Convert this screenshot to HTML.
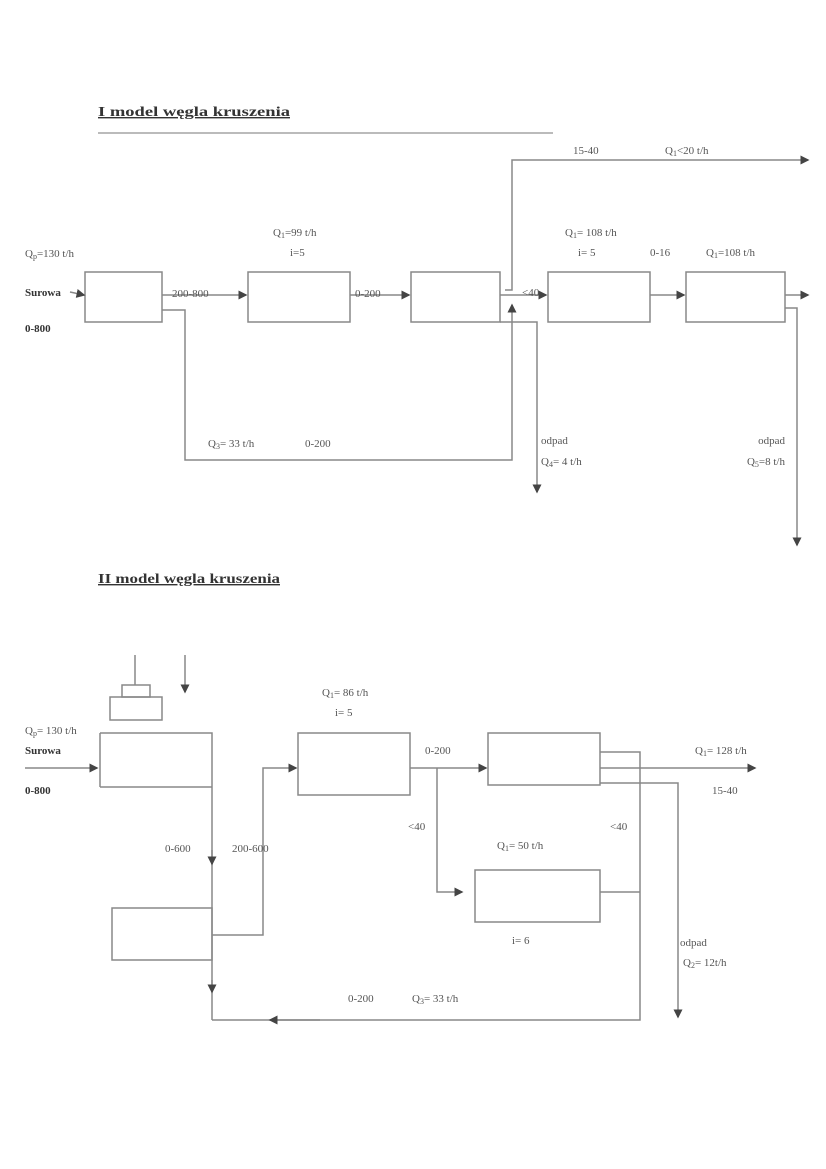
<!DOCTYPE html>
<html><head><meta charset="utf-8"><style>
html,body{margin:0;padding:0;background:#fff;}
svg{display:block}
text{font-family:"Liberation Serif",serif;font-size:11px;fill:#555;}
.b{font-weight:bold;fill:#333}
</style></head><body>
<svg width="826" height="1169" viewBox="0 0 826 1169" xmlns="http://www.w3.org/2000/svg">
<defs><marker id="a" markerWidth="6" markerHeight="6" refX="5" refY="3" orient="auto"><path d="M0,0 L6,3 L0,6z" fill="#444"/></marker></defs>
<g fill="none" stroke="#888" stroke-width="1.5">
<line x1="98" y1="133" x2="553" y2="133" stroke="#bbb" stroke-width="2"/>
<rect x="85" y="272" width="77" height="50"/>
<rect x="248" y="272" width="102" height="50"/>
<rect x="411" y="272" width="89" height="50"/>
<rect x="548" y="272" width="102" height="50"/>
<rect x="686" y="272" width="99" height="50"/>
<line x1="70" y1="292" x2="84" y2="295" marker-end="url(#a)"/>
<line x1="162" y1="295" x2="246" y2="295" marker-end="url(#a)"/>
<line x1="350" y1="295" x2="409" y2="295" marker-end="url(#a)"/>
<line x1="500" y1="295" x2="546" y2="295" marker-end="url(#a)"/>
<line x1="650" y1="295" x2="684" y2="295" marker-end="url(#a)"/>
<line x1="785" y1="295" x2="808" y2="295" marker-end="url(#a)"/>
<polyline points="505,290 512,290 512,160 808,160" marker-end="url(#a)"/>
<polyline points="162,310 185,310 185,460 512,460 512,305" marker-end="url(#a)"/>
<polyline points="500,322 537,322 537,492" marker-end="url(#a)"/>
<polyline points="785,308 797,308 797,545" marker-end="url(#a)"/>
<line x1="135" y1="655" x2="135" y2="685"/>
<rect x="122" y="685" width="28" height="12"/>
<rect x="110" y="697" width="52" height="23"/>
<line x1="185" y1="655" x2="185" y2="692" marker-end="url(#a)"/>
<polyline points="100,733 212,733 212,1020"/>
<line x1="100" y1="787" x2="212" y2="787"/>
<line x1="100" y1="733" x2="100" y2="787"/>
<line x1="25" y1="768" x2="97" y2="768" marker-end="url(#a)"/>
<rect x="112" y="908" width="100" height="52"/>
<polyline points="212,935 263,935 263,768 296,768" marker-end="url(#a)"/>
<rect x="298" y="733" width="112" height="62"/>
<line x1="410" y1="768" x2="486" y2="768" marker-end="url(#a)"/>
<rect x="488" y="733" width="112" height="52"/>
<polyline points="437,768 437,892 462,892" marker-end="url(#a)"/>
<rect x="475" y="870" width="125" height="52"/>
<polyline points="600,752 640,752 640,1020 212,1020"/>
<line x1="320" y1="1020" x2="270" y2="1020" marker-end="url(#a)"/>
<line x1="600" y1="892" x2="640" y2="892"/>
<line x1="600" y1="768" x2="755" y2="768" marker-end="url(#a)"/>
<polyline points="600,783 678,783 678,1017" marker-end="url(#a)"/>
<line x1="212" y1="850" x2="212" y2="864" marker-end="url(#a)"/>
<line x1="212" y1="980" x2="212" y2="992" marker-end="url(#a)"/>
</g>
<text x="98" y="116" class="b" style="text-decoration:underline;font-size:14px" textLength="192" lengthAdjust="spacingAndGlyphs">I model węgla kruszenia</text>
<text x="25" y="257">Q<tspan font-size="8" dy="2">p</tspan><tspan dy="-2">=130 t/h</tspan></text>
<text x="25" y="296" class="b">Surowa</text>
<text x="25" y="332" class="b">0-800</text>
<text x="172" y="297">200-800</text>
<text x="355" y="297">0-200</text>
<text x="273" y="236">Q<tspan font-size="8" dy="2">1</tspan><tspan dy="-2">=99 t/h</tspan></text>
<text x="290" y="256">i=5</text>
<text x="573" y="154">15-40</text>
<text x="665" y="154">Q<tspan font-size="8" dy="2">1</tspan><tspan dy="-2">&lt;20 t/h</tspan></text>
<text x="565" y="236">Q<tspan font-size="8" dy="2">1</tspan><tspan dy="-2">= 108 t/h</tspan></text>
<text x="578" y="256">i= 5</text>
<text x="650" y="256">0-16</text>
<text x="706" y="256">Q<tspan font-size="8" dy="2">1</tspan><tspan dy="-2">=108 t/h</tspan></text>
<text x="522" y="296">&lt;40</text>
<text x="208" y="447">Q<tspan font-size="8" dy="2">3</tspan><tspan dy="-2">= 33 t/h</tspan></text>
<text x="305" y="447">0-200</text>
<text x="541" y="444">odpad</text>
<text x="541" y="465">Q<tspan font-size="8" dy="2">4</tspan><tspan dy="-2">= 4 t/h</tspan></text>
<text x="785" y="444" text-anchor="end">odpad</text>
<text x="785" y="465" text-anchor="end">Q<tspan font-size="8" dy="2">5</tspan><tspan dy="-2">=8 t/h</tspan></text>

<text x="98" y="583" class="b" style="text-decoration:underline;font-size:14px" textLength="182" lengthAdjust="spacingAndGlyphs">II model węgla kruszenia</text>
<text x="25" y="734">Q<tspan font-size="8" dy="2">p</tspan><tspan dy="-2">= 130 t/h</tspan></text>
<text x="25" y="754" class="b">Surowa</text>
<text x="25" y="794" class="b">0-800</text>
<text x="322" y="696">Q<tspan font-size="8" dy="2">1</tspan><tspan dy="-2">= 86 t/h</tspan></text>
<text x="335" y="716">i= 5</text>
<text x="425" y="754">0-200</text>
<text x="695" y="754">Q<tspan font-size="8" dy="2">1</tspan><tspan dy="-2">= 128 t/h</tspan></text>
<text x="712" y="794">15-40</text>
<text x="408" y="830">&lt;40</text>
<text x="610" y="830">&lt;40</text>
<text x="497" y="849">Q<tspan font-size="8" dy="2">1</tspan><tspan dy="-2">= 50 t/h</tspan></text>
<text x="512" y="944">i= 6</text>
<text x="165" y="852">0-600</text>
<text x="232" y="852">200-600</text>
<text x="680" y="946">odpad</text>
<text x="683" y="966">Q<tspan font-size="8" dy="2">2</tspan><tspan dy="-2">= 12t/h</tspan></text>
<text x="348" y="1002">0-200</text>
<text x="412" y="1002">Q<tspan font-size="8" dy="2">3</tspan><tspan dy="-2">= 33 t/h</tspan></text>
</svg>
</body></html>
